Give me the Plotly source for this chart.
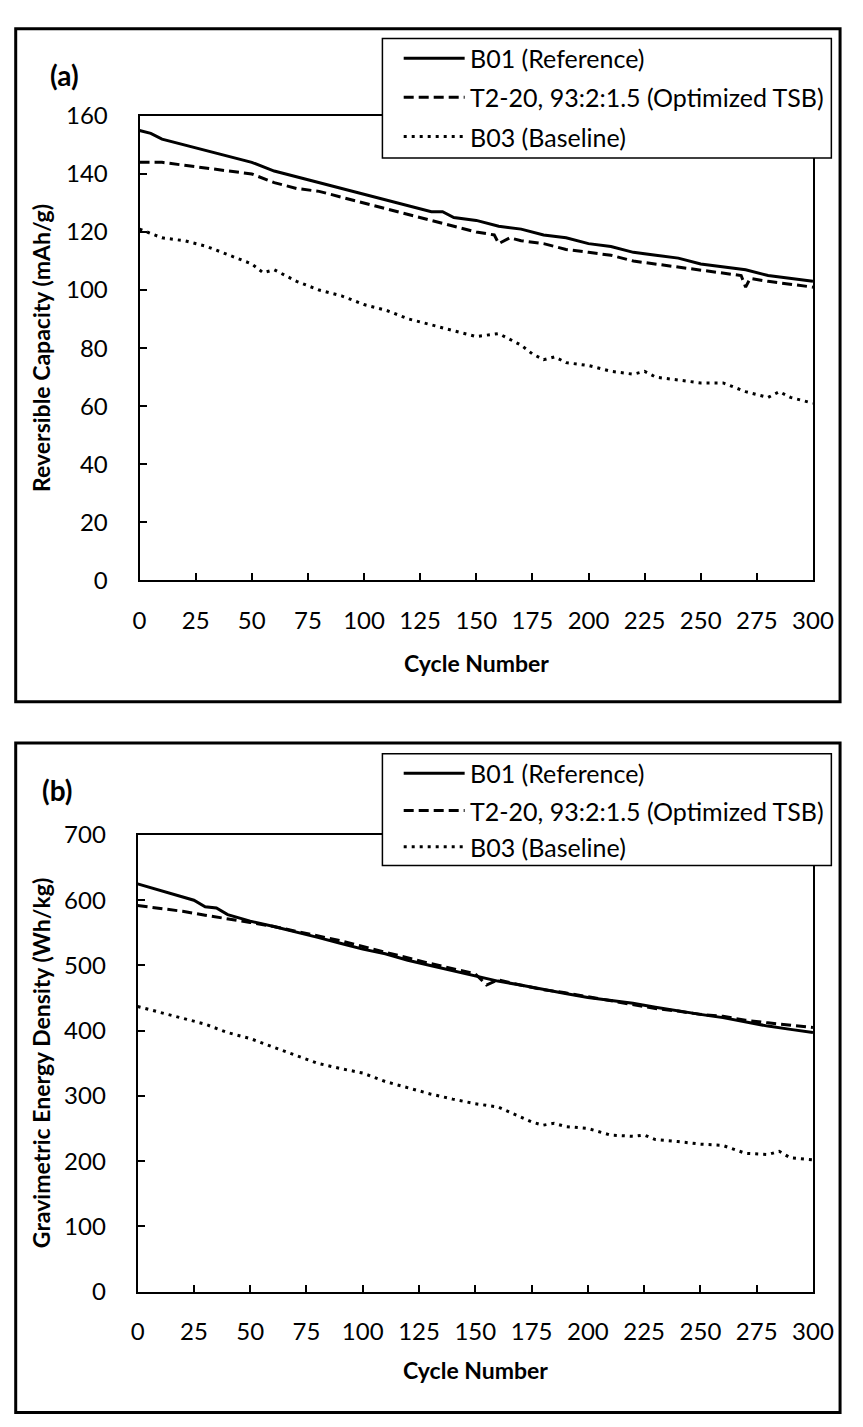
import plotly.graph_objects as go

# ---------------- data ----------------
cyc_a_b01 = [0,5,10,20,30,40,45,50,60,70,80,90,100,110,120,130,135,140,150,160,170,180,190,200,210,220,230,240,250,260,270,280,290,300]
cap_b01 = [155,154,152,150,148,146,145,144,141,139,137,135,133,131,129,127,127,125,124,122,121,119,118,116,115,113,112,111,109,108,107,105,104,103]

cyc_a_t2 = [0,10,20,30,40,50,60,70,80,90,100,110,120,130,140,150,158,160,165,170,180,190,200,210,220,230,240,250,260,268,270,272,280,290,300]
cap_t2 = [144,144,143,142,141,140,137,135,134,132,130,128,126,124,122,120,119,116,118,117,116,114,113,112,110,109,108,107,106,105,101,104,103,102,101]

cyc_a_b03 = [0,10,20,30,40,50,55,60,70,80,90,100,110,120,130,140,150,160,170,175,180,185,190,200,210,220,225,230,240,250,260,270,280,285,290,300]
cap_b03 = [121,118,117,115,112,109,106,107,103,100,98,95,93,90,88,86,84,85,81,78,76,77,75,74,72,71,72,70,69,68,68,65,63,65,63,61]

cyc_b_b01 = [0,10,20,25,30,35,40,50,60,70,80,90,100,110,120,130,140,150,160,170,180,190,200,210,220,230,240,250,260,270,280,290,300]
ed_b01 = [625,615,605,600,590,588,578,568,560,552,543,534,525,518,508,500,492,483,476,470,463,457,451,447,442,436,430,425,420,413,407,402,397]

cyc_b_t2 = [0,10,20,30,40,50,60,70,80,90,100,110,120,130,140,150,155,160,170,180,190,200,210,220,230,240,250,260,270,280,290,300]
ed_t2 = [592,588,583,577,572,566,560,553,545,538,529,520,512,503,495,487,470,478,470,463,458,452,446,440,434,430,425,422,416,412,408,405]

cyc_b_b03 = [0,10,20,30,40,50,60,70,80,90,100,110,120,130,140,150,160,170,175,180,185,190,200,210,220,225,230,240,250,260,270,280,285,290,300]
ed_b03 = [437,428,420,410,397,388,375,362,350,342,335,322,312,303,295,288,283,268,260,255,258,253,250,240,238,240,233,230,226,224,212,210,215,205,202]

series_names = ["B01 (Reference)", "T2-20, 93:2:1.5 (Optimized TSB)", "B03 (Baseline)"]
x_ticks = [0,25,50,75,100,125,150,175,200,225,250,275,300]
ya_ticks = [0,20,40,60,80,100,120,140,160]
yb_ticks = [0,100,200,300,400,500,600,700]

# ---------------- layout helpers ----------------
W, H = 863, 1427
def px(x): return x / W
def py(y): return 1 - y / H

FONT = "Lato"
TICKF = dict(family=FONT, size=24, color="black")
dash_styles = ["solid", "10px,5px", "3px,5px"]

fig = go.Figure()
for xs, ys, nm, ds in [(cyc_a_b01, cap_b01, series_names[0], dash_styles[0]),
                       (cyc_a_t2, cap_t2, series_names[1], dash_styles[1]),
                       (cyc_a_b03, cap_b03, series_names[2], dash_styles[2])]:
    fig.add_trace(go.Scatter(x=xs, y=ys, name=nm, mode="lines", xaxis="x", yaxis="y",
                             line=dict(color="black", width=3, dash=ds), showlegend=False))
for xs, ys, nm, ds in [(cyc_b_b01, ed_b01, series_names[0], dash_styles[0]),
                       (cyc_b_t2, ed_t2, series_names[1], dash_styles[1]),
                       (cyc_b_b03, ed_b03, series_names[2], dash_styles[2])]:
    fig.add_trace(go.Scatter(x=xs, y=ys, name=nm, mode="lines", xaxis="x2", yaxis="y2",
                             line=dict(color="black", width=3, dash=ds), showlegend=False))

def xax(domain, anchor):
    return dict(domain=domain, anchor=anchor, range=[0, 300], tickvals=x_ticks,
                ticks="inside", ticklen=7, tickwidth=2, tickcolor="black",
                showline=True, linecolor="black", linewidth=2, mirror=True,
                showgrid=False, zeroline=False, tickfont=TICKF, ticklabelstandoff=18)

def yax(domain, anchor, rng, tv):
    return dict(domain=domain, anchor=anchor, range=rng, tickvals=tv,
                ticks="inside", ticklen=7, tickwidth=2, tickcolor="black",
                showline=True, linecolor="black", linewidth=2, mirror=True,
                showgrid=False, zeroline=False, tickfont=TICKF, ticklabelstandoff=25)

shapes = []
annotations = []

# panel borders
shapes.append(dict(type="rect", xref="paper", yref="paper", x0=px(9), x1=px(861), y0=py(700), y1=py(13),
                   line=dict(color="black", width=3), fillcolor="rgba(0,0,0,0)", layer="above"))
shapes.append(dict(type="rect", xref="paper", yref="paper", x0=px(9), x1=px(861), y0=py(1425.5), y1=py(742),
                   line=dict(color="black", width=3), fillcolor="rgba(0,0,0,0)", layer="above"))

def legend(top, bottom, rows):
    shapes.append(dict(type="rect", xref="paper", yref="paper", x0=px(388), x1=px(852), y0=py(bottom), y1=py(top),
                       line=dict(color="black", width=1.5), fillcolor="white", layer="above"))
    for i, ry in enumerate(rows):
        shapes.append(dict(type="line", xref="paper", yref="paper", x0=px(410), x1=px(473), y0=py(ry), y1=py(ry),
                           line=dict(color="black", width=3, dash=dash_styles[i]), layer="above"))
        annotations.append(dict(text=series_names[i], xref="paper", yref="paper", x=px(476), y=py(ry),
                                xanchor="left", yanchor="middle", showarrow=False,
                                font=dict(family=FONT, size=25, color="black")))

legend(23, 145, [43, 83, 123])
legend(753, 867, [773, 811, 848])

# panel labels
annotations.append(dict(text="<b>(a)</b>", xref="paper", yref="paper", x=px(59), y=py(60),
                        xanchor="center", yanchor="middle", showarrow=False,
                        font=dict(family=FONT, size=28, color="black")))
annotations.append(dict(text="<b>(b)</b>", xref="paper", yref="paper", x=px(52), y=py(790),
                        xanchor="center", yanchor="middle", showarrow=False,
                        font=dict(family=FONT, size=28, color="black")))
# axis titles
TF = dict(family=FONT, size=23, color="black")
annotations.append(dict(text="<b>Reversible Capacity (mAh/g)</b>", xref="paper", yref="paper", x=px(35), y=py(339),
                        xanchor="center", yanchor="middle", textangle=-90, showarrow=False, font=TF))
annotations.append(dict(text="<b>Gravimetric Energy Density (Wh/kg)</b>", xref="paper", yref="paper", x=px(35), y=py(1069),
                        xanchor="center", yanchor="middle", textangle=-90, showarrow=False, font=TF))
annotations.append(dict(text="<b>Cycle Number</b>", xref="paper", yref="paper", x=px(485), y=py(660),
                        xanchor="center", yanchor="middle", showarrow=False, font=TF))
annotations.append(dict(text="<b>Cycle Number</b>", xref="paper", yref="paper", x=px(484), y=py(1382),
                        xanchor="center", yanchor="middle", showarrow=False, font=TF))

fig.update_layout(
    width=W, height=H, margin=dict(l=0, r=0, t=0, b=0),
    paper_bgcolor="white", plot_bgcolor="white",
    showlegend=False,
    xaxis=xax([px(137), px(833)], "y"),
    yaxis=yax([py(576), py(102)], "x", [0, 160], ya_ticks),
    xaxis2=xax([px(135), px(833)], "y2"),
    yaxis2=yax([py(1302), py(836)], "x2", [0, 700], yb_ticks),
    shapes=shapes, annotations=annotations,
)

fig.write_html("out.html")
